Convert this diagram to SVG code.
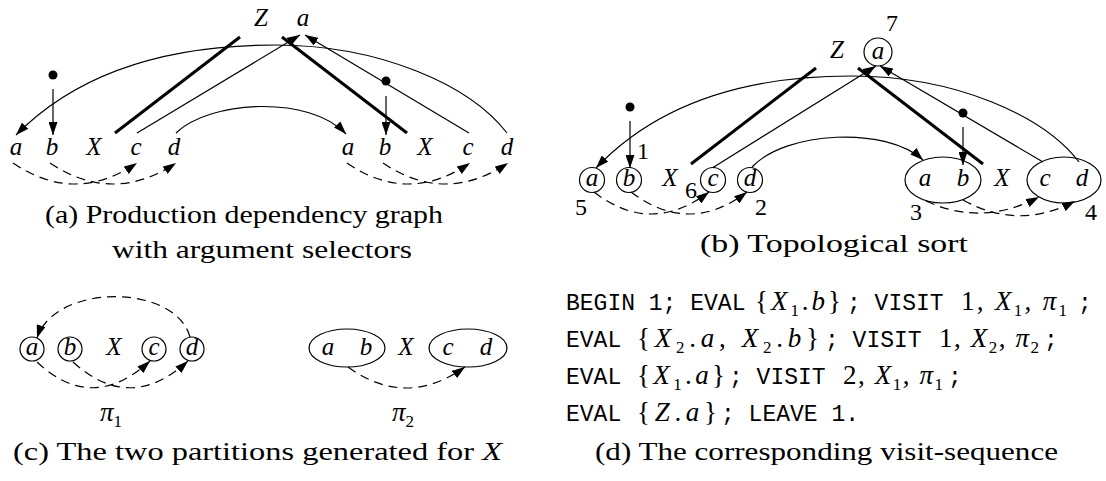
<svg xmlns="http://www.w3.org/2000/svg" width="1106" height="481" viewBox="0 0 1106 481">
<style>
.l{font-family:"Liberation Serif",serif;font-style:italic;font-size:25px;text-anchor:middle}
.n{font-family:"Liberation Serif",serif;font-size:24px;text-anchor:middle}
.cap{font-family:"Liberation Serif",serif;font-size:26px}
.tt{font-family:"Liberation Mono",monospace;font-size:23px;white-space:pre}
.m{font-family:"Liberation Serif",serif;font-size:27px;white-space:pre}
.i{font-style:italic}
.s{font-size:17px}
.ln{fill:none;stroke:#000;stroke-width:1.2}
.tk{fill:none;stroke:#000;stroke-width:3}
.ds{fill:none;stroke:#000;stroke-width:1.2;stroke-dasharray:9 6}
.ar{marker-end:url(#arr)}
.o{fill:none;stroke:#000;stroke-width:1.2}
.dot{fill:#000}
</style>
<defs>
<marker id="arr" viewBox="0 0 13 9" refX="13" refY="4.5" markerWidth="13" markerHeight="9" markerUnits="userSpaceOnUse" orient="auto"><path d="M0,0 L13,4.5 L0,9 z" fill="#000"/></marker>
</defs>

<!-- connectors -->
<g id="connectors">
  <g id="conn-a">
    <line class="tk" x1="115" y1="133" x2="240" y2="37"/>
    <line class="tk" x1="282" y1="37" x2="407" y2="133"/>
    <line class="ln ar" x1="137" y1="133" x2="300" y2="35"/>
    <line class="ln ar" x1="469" y1="133" x2="305" y2="35"/>
    <path class="ln ar" d="M507,133 C470,85 380,45 275,45 C170,45 80,70 16,135"/>
    <path class="ln ar" d="M176,133 C210,100 310,95 346,134"/>
    <line class="ln ar" x1="53" y1="89" x2="53" y2="135"/>
    <line class="ln ar" x1="386" y1="96" x2="386" y2="135"/>
    <path class="ds ar" d="M13,163 Q75,205 137,163"/>
    <path class="ds ar" d="M50,163 Q113,205 176,163"/>
    <path class="ds ar" d="M347,163 Q408,205 470,163"/>
    <path class="ds ar" d="M383,163 Q445,205 508,163"/>
  </g>
  <g id="conn-b" transform="translate(576,31)">
    <line class="tk" x1="115" y1="133" x2="240" y2="37"/>
    <line class="tk" x1="282" y1="37" x2="407" y2="133"/>
    <line class="ln ar" x1="137" y1="136.5" x2="300" y2="35"/>
    <line class="ln ar" x1="467" y1="131" x2="304" y2="35"/>
    <path class="ln ar" d="M503,131 C468,85 380,45 275,45 C170,45 82,72 20,137"/>
    <path class="ln ar" d="M176,136 C210,100 310,95 347,129"/>
    <line class="ln ar" x1="54" y1="90" x2="54" y2="137"/>
    <line class="ln ar" x1="387" y1="96" x2="387" y2="134"/>
    <path class="ds ar" d="M18,161 Q75,205 133,161"/>
    <path class="ds ar" d="M55,161 Q113,205 171,161"/>
    <path class="ds ar" d="M350,170 Q406,196 463,166"/>
    <path class="ds ar" d="M387,169 Q443,200 499,170"/>
  </g>
  <g id="conn-c">
    <path class="ds ar" d="M190,337 C175,283 55,283 37,338"/>
    <path class="ds ar" d="M37,362 Q92,414 150,361"/>
    <path class="ds ar" d="M73,362 Q130,414 188,361"/>
    <path class="ds ar" d="M348,367 Q406,409 465,367"/>
  </g>
</g>

<!-- panel (a) nodes -->
<g id="panel-a">
  <g id="a-dot1"><circle class="dot" cx="53" cy="75" r="4.5"/></g>
  <g id="a-dot2"><circle class="dot" cx="386" cy="81" r="4.5"/></g>
  <g id="a-Z"><text class="l" x="261" y="26">Z</text></g>
  <g id="a-Za"><text class="l" x="303" y="26">a</text></g>
  <g id="a-X1a"><text class="l" x="16" y="155">a</text></g>
  <g id="a-X1b"><text class="l" x="52" y="155">b</text></g>
  <g id="a-X1"><text class="l" x="94" y="155">X</text></g>
  <g id="a-X1c"><text class="l" x="136" y="155">c</text></g>
  <g id="a-X1d"><text class="l" x="174" y="155">d</text></g>
  <g id="a-X2a"><text class="l" x="348" y="155">a</text></g>
  <g id="a-X2b"><text class="l" x="385" y="155">b</text></g>
  <g id="a-X2"><text class="l" x="425" y="155">X</text></g>
  <g id="a-X2c"><text class="l" x="468" y="155">c</text></g>
  <g id="a-X2d"><text class="l" x="507" y="155">d</text></g>
  <g id="a-caption">
    <text class="cap" x="45" y="223" textLength="398" lengthAdjust="spacingAndGlyphs">(a) Production dependency graph</text>
    <text class="cap" x="112" y="258" textLength="300" lengthAdjust="spacingAndGlyphs">with argument selectors</text>
  </g>
</g>

<!-- panel (b) nodes -->
<g id="panel-b" transform="translate(576,31)">
  <g id="b-dot1"><circle class="dot" cx="54" cy="76" r="4.5"/></g>
  <g id="b-dot2"><circle class="dot" cx="387" cy="82" r="4.5"/></g>
  <g id="b-Z"><text class="l" x="261" y="27">Z</text></g>
  <g id="b-Za"><circle class="o" cx="302" cy="21" r="14"/><text class="l" x="302" y="28">a</text><text class="n" x="316" y="0">7</text></g>
  <g id="b-X1a"><circle class="o" cx="16" cy="149" r="12.5"/><text class="l" x="16" y="155">a</text><text class="n" x="5" y="184">5</text></g>
  <g id="b-X1b"><circle class="o" cx="53" cy="149" r="12.5"/><text class="l" x="53" y="155">b</text><text class="n" x="67" y="128">1</text></g>
  <g id="b-X1"><text class="l" x="94" y="155">X</text></g>
  <g id="b-X1c"><circle class="o" cx="137" cy="149" r="12.5"/><text class="l" x="137" y="155">c</text><text class="n" x="115" y="167">6</text></g>
  <g id="b-X1d"><circle class="o" cx="174" cy="149" r="12.5"/><text class="l" x="174" y="155">d</text><text class="n" x="185" y="184">2</text></g>
  <g id="b-X2ab"><ellipse class="o" cx="367" cy="149" rx="38" ry="23"/><text class="l" x="349" y="155">a</text><text class="l" x="387" y="155">b</text><text class="n" x="340" y="189">3</text></g>
  <g id="b-X2"><text class="l" x="426" y="155">X</text></g>
  <g id="b-X2cd"><ellipse class="o" cx="488" cy="149" rx="37" ry="23"/><text class="l" x="469" y="155">c</text><text class="l" x="506" y="155">d</text><text class="n" x="515" y="189">4</text></g>
</g>
<g id="b-caption"><text class="cap" x="700" y="252" textLength="268" lengthAdjust="spacingAndGlyphs">(b) Topological sort</text></g>

<!-- panel (c) nodes -->
<g id="panel-c">
  <g id="c1-a"><circle class="o" cx="32" cy="349" r="12"/><text class="l" x="32" y="355">a</text></g>
  <g id="c1-b"><circle class="o" cx="70" cy="349" r="12"/><text class="l" x="70" y="355">b</text></g>
  <g id="c1-X"><text class="l" x="114" y="355">X</text></g>
  <g id="c1-c"><circle class="o" cx="154" cy="349" r="12"/><text class="l" x="154" y="355">c</text></g>
  <g id="c1-d"><circle class="o" cx="192" cy="349" r="12"/><text class="l" x="192" y="355">d</text></g>
  <g id="c1-pi"><text class="m" x="100" y="421"><tspan class="i">π</tspan><tspan class="s" dy="6">1</tspan></text></g>
  <g id="c2-ab"><ellipse class="o" cx="347" cy="348" rx="38" ry="19"/><text class="l" x="328" y="355">a</text><text class="l" x="366" y="355">b</text></g>
  <g id="c2-X"><text class="l" x="406" y="355">X</text></g>
  <g id="c2-cd"><ellipse class="o" cx="468" cy="348" rx="39" ry="19"/><text class="l" x="448" y="355">c</text><text class="l" x="486" y="355">d</text></g>
  <g id="c2-pi"><text class="m" x="392" y="421"><tspan class="i">π</tspan><tspan class="s" dy="6">2</tspan></text></g>
  <g id="c-caption"><text class="cap" x="13" y="460" textLength="489" lengthAdjust="spacingAndGlyphs">(c) The two partitions generated for <tspan class="i">X</tspan></text></g>
</g>

<!-- panel (d) -->
<g id="panel-d">
  <g id="d-line1">
    <text class="tt" x="566" y="310">BEGIN 1; EVAL</text>
    <text class="m" x="755" y="310" textLength="86">{<tspan class="i">X</tspan><tspan class="s" dy="6">1</tspan><tspan dy="-6">.</tspan><tspan class="i">b</tspan>}</text>
    <text class="tt" x="847" y="310">; VISIT</text>
    <text class="m" x="961" y="310" textLength="106">1, <tspan class="i">X</tspan><tspan class="s" dy="6">1</tspan><tspan dy="-6">, </tspan><tspan class="i">π</tspan><tspan class="s" dy="6">1</tspan></text>
    <text class="tt" x="1078" y="310">;</text>
  </g>
  <g id="d-line2">
    <text class="tt" x="566" y="347">EVAL</text>
    <text class="m" x="637" y="347" textLength="182">{<tspan class="i">X</tspan><tspan class="s" dy="6">2</tspan><tspan dy="-6">.</tspan><tspan class="i">a</tspan>, <tspan class="i">X</tspan><tspan class="s" dy="6">2</tspan><tspan dy="-6">.</tspan><tspan class="i">b</tspan>}</text>
    <text class="tt" x="825" y="347">; VISIT</text>
    <text class="m" x="939" y="347" textLength="100">1, <tspan class="i">X</tspan><tspan class="s" dy="6">2</tspan><tspan dy="-6">, </tspan><tspan class="i">π</tspan><tspan class="s" dy="6">2</tspan></text>
    <text class="tt" x="1044" y="347">;</text>
  </g>
  <g id="d-line3">
    <text class="tt" x="566" y="384">EVAL</text>
    <text class="m" x="637" y="384" textLength="88">{<tspan class="i">X</tspan><tspan class="s" dy="6">1</tspan><tspan dy="-6">.</tspan><tspan class="i">a</tspan>}</text>
    <text class="tt" x="729" y="384">; VISIT</text>
    <text class="m" x="843" y="384" textLength="100">2, <tspan class="i">X</tspan><tspan class="s" dy="6">1</tspan><tspan dy="-6">, </tspan><tspan class="i">π</tspan><tspan class="s" dy="6">1</tspan></text>
    <text class="tt" x="948" y="384">;</text>
  </g>
  <g id="d-line4">
    <text class="tt" x="566" y="421">EVAL</text>
    <text class="m" x="637" y="421" textLength="80">{<tspan class="i">Z</tspan>.<tspan class="i">a</tspan>}</text>
    <text class="tt" x="721" y="421">; LEAVE 1.</text>
  </g>
  <g id="d-caption"><text class="cap" x="595" y="460" textLength="463" lengthAdjust="spacingAndGlyphs">(d) The corresponding visit-sequence</text></g>
</g>
</svg>
